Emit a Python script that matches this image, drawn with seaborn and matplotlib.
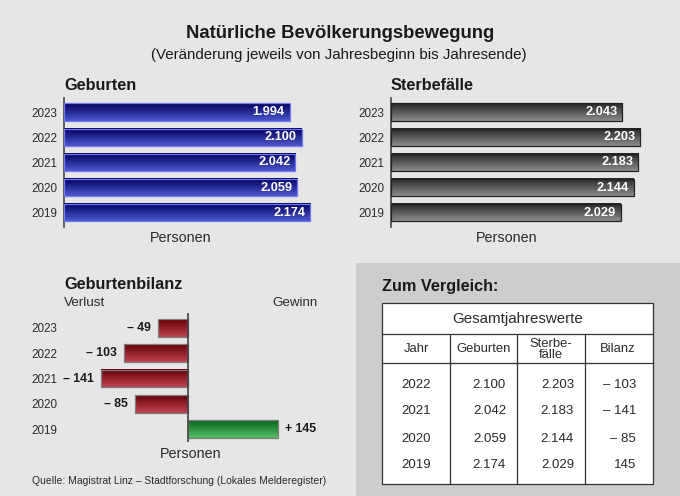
import numpy as np
import pandas as pd
import seaborn as sns
import matplotlib.pyplot as plt
from matplotlib.colors import LinearSegmentedColormap
from matplotlib.patches import Rectangle

# Values
years = ["2023", "2022", "2021", "2020", "2019"]
births = [1994, 2100, 2042, 2059, 2174]
deaths = [2043, 2203, 2183, 2144, 2029]
balance = [-49, -103, -141, -85, 145]
birth_labels = ["1.994", "2.100", "2.042", "2.059", "2.174"]
death_labels = ["2.043", "2.203", "2.183", "2.144", "2.029"]
balance_labels = ["– 49", "– 103", "– 141", "– 85", "+ 145"]

table_years = ["2022", "2021", "2020", "2019"]
table_births = ["2.100", "2.042", "2.059", "2.174"]
table_deaths = ["2.203", "2.183", "2.144", "2.029"]
table_balance = ["– 103", "– 141", "– 85", "145"]

BG = "#e6e6e6"
PANEL = "#cdcdcd"
TEXT = "#1a1a1a"
SOFT = "#2a2a2a"
W, H = 680, 496

sns.set_theme(style="white")
plt.rcParams["font.family"] = ["Liberation Sans", "DejaVu Sans"]
plt.rcParams["text.color"] = TEXT

fig = plt.figure(figsize=(W / 100, H / 100), dpi=100, facecolor=BG)

# page layer in pixel coordinates for panel, table and free text
page = fig.add_axes([0, 0, 1, 1], zorder=0)
page.set_xlim(0, W)
page.set_ylim(H, 0)
page.axis("off")


def px_axes(x0, y0, x1, y1):
    ax = fig.add_axes([x0 / W, 1 - y1 / H, (x1 - x0) / W, (y1 - y0) / H], zorder=2)
    ax.patch.set_alpha(0)
    return ax


def gradient_bars(ax, styles):
    # seaborn draws the bars, the fill is replaced by a vertical gradient
    xlim, ylim = ax.get_xlim(), ax.get_ylim()
    for bar, (top, bottom, edge) in zip(ax.patches, styles):
        cmap = LinearSegmentedColormap.from_list("bar", [top, bottom])
        x, y, w, h = bar.get_x(), bar.get_y(), bar.get_width(), bar.get_height()
        ax.imshow(np.linspace(0, 1, 40).reshape(-1, 1), cmap=cmap, aspect="auto",
                  extent=(x, x + w, y + h, y), zorder=2)
        bar.set_facecolor("none")
        bar.set_edgecolor(edge)
        bar.set_linewidth(0.9)
        bar.set_zorder(3)
    ax.set_xlim(xlim)
    ax.set_ylim(ylim)


def bar_panel(box, values, labels, xlim, styles):
    ax = px_axes(*box)
    df = pd.DataFrame({"year": years, "value": values})
    sns.barplot(data=df, x="value", y="year", order=years, orient="h", width=0.69,
                color="gray", ax=ax)
    ax.set_xlim(*xlim)
    ax.set_ylim(4.57, -0.56)
    ax.set_xlabel("")
    ax.set_ylabel("")
    ax.set_xticks([])
    ax.tick_params(axis="y", length=0, pad=5, labelsize=8.4, labelcolor=SOFT)
    gradient_bars(ax, styles)
    return ax


blue = [("#00005e", "#4d58cc", "#7079f2")] * 5
gray = [("#262626", "#8c8c8c", "#222222")] * 5
red = ("#660008", "#c04452", "#7d7d7d")
green = ("#0a661a", "#56bd66", "#7d7d7d")

scale = 0.1132  # pixels per person in the two upper panels
ax_b = bar_panel((64, 98, 330, 227), births, birth_labels, (0, 266 / scale), blue)
ax_d = bar_panel((391, 98, 660, 227), deaths, death_labels, (0, 269 / scale), gray)
for ax, labels in [(ax_b, birth_labels), (ax_d, death_labels)]:
    sns.despine(ax=ax, bottom=True, top=True, right=True)
    ax.spines["left"].set_color("#444444")
    ax.spines["left"].set_linewidth(1.2)
    for t in ax.bar_label(ax.containers[0], labels=labels, label_type="edge", padding=-3.5,
                          color="white", fontweight="bold", fontsize=9.2):
        t.set_ha("right")
        t.set_zorder(5)

# balance panel, zero line sits inside the axes
scale_bal = 0.62
ax_s = bar_panel((64, 313, 330, 442), balance, balance_labels,
                 (-124 / scale_bal, 142 / scale_bal),
                 [green if v > 0 else red for v in balance])
ax_s.set_ylim(4.51, -0.59)
sns.despine(ax=ax_s, left=True, bottom=True, top=True, right=True)
ax_s.axvline(0, color="#444444", lw=1.2, zorder=4)
for t in ax_s.bar_label(ax_s.containers[0], labels=balance_labels, padding=5,
                        color=TEXT, fontweight="bold", fontsize=8.8):
    t.set_zorder(5)

# headings
page.text(340, 34, "Natürliche Bevölkerungsbewegung", ha="center", va="center",
          fontsize=13.3, fontweight="bold")
page.text(339, 55, "(Veränderung jeweils von Jahresbeginn bis Jahresende)", ha="center",
          va="center", fontsize=10.9)
for x, y, s in [(64, 85.5, "Geburten"), (391, 85.5, "Sterbefälle"), (64, 284.5, "Geburtenbilanz")]:
    page.text(x, y, s, va="center", fontsize=11.7, fontweight="bold")
for x, y in [(181, 238), (507, 238), (191, 454)]:
    page.text(x, y, "Personen", ha="center", va="center", fontsize=10.4, color=SOFT)
page.text(64, 302.5, "Verlust", va="center", fontsize=9.7, color=SOFT)
page.text(318, 302.5, "Gewinn", ha="right", va="center", fontsize=9.6, color=SOFT)
page.text(32, 481, "Quelle: Magistrat Linz – Stadtforschung (Lokales Melderegister)",
          va="center", fontsize=7.45, color=SOFT)

# comparison panel with table
page.add_patch(Rectangle((356, 263), 324, 233, fc=PANEL, ec="none", zorder=0))
page.text(382, 286.5, "Zum Vergleich:", va="center", fontsize=11.7, fontweight="bold")
left, right, top, bottom = 382, 653, 303, 484
page.add_patch(Rectangle((left, top), right - left, bottom - top, fc="white",
                         ec="#333333", lw=0.9, zorder=1))
for y in (334, 363):
    page.plot([left, right], [y, y], color="#333333", lw=0.9, zorder=2)
for x in (450, 517, 585):
    page.plot([x, x], [334, bottom], color="#333333", lw=0.9, zorder=2)
page.text((left + right) / 2, 319, "Gesamtjahreswerte", ha="center", va="center",
          fontsize=10.9, color=SOFT)
for x, s, lh in [(416, "Jahr", 1), (484, "Geburten", 1), (551, "Sterbe-\nfälle", 0.85), (618, "Bilanz", 1)]:
    page.text(x, 349.5, s, ha="center", va="center", fontsize=9.4, linespacing=lh,
              color=SOFT)
row_y = [384.5, 411.5, 438.5, 465.5]
for i, y in enumerate(row_y):
    page.text(416, y, table_years[i], ha="center", va="center", fontsize=9.5, color=SOFT)
    page.text(506, y, table_births[i], ha="right", va="center", fontsize=9.5, color=SOFT)
    page.text(574, y, table_deaths[i], ha="right", va="center", fontsize=9.5, color=SOFT)
    page.text(636, y, table_balance[i], ha="right", va="center", fontsize=9.5, color=SOFT)

fig.savefig("out.png", dpi=100, facecolor=BG)
